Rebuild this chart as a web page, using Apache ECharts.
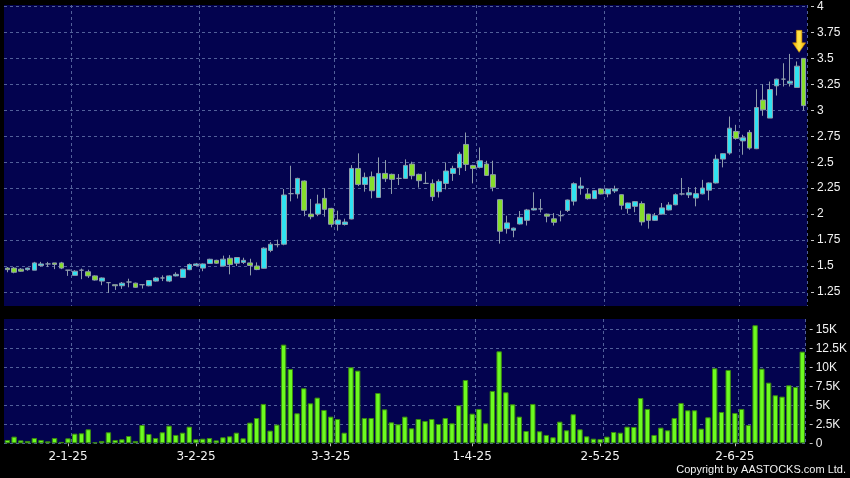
<!DOCTYPE html>
<html>
<head>
<meta charset="utf-8">
<script src="https://cdn.jsdelivr.net/npm/echarts@6/dist/echarts.min.js"></script>
<style>
html,body{margin:0;padding:0;background:#000;}
#chart{width:850px;height:478px;}
</style>
</head>
<body>
<div id="chart"></div>
<script>
const dates = [
'17-12-24','18-12-24','19-12-24','20-12-24','23-12-24','24-12-24','27-12-24','30-12-24','31-12-24',
'2-1-25','3-1-25','6-1-25','7-1-25','8-1-25','9-1-25','10-1-25','13-1-25','14-1-25','15-1-25','16-1-25','17-1-25','20-1-25','21-1-25','22-1-25','23-1-25','24-1-25','27-1-25','28-1-25',
'3-2-25','4-2-25','5-2-25','6-2-25','7-2-25','10-2-25','11-2-25','12-2-25','13-2-25','14-2-25','17-2-25','18-2-25','19-2-25','20-2-25','21-2-25','24-2-25','25-2-25','26-2-25','27-2-25','28-2-25',
'3-3-25','4-3-25','5-3-25','6-3-25','7-3-25','10-3-25','11-3-25','12-3-25','13-3-25','14-3-25','17-3-25','18-3-25','19-3-25','20-3-25','21-3-25','24-3-25','25-3-25','26-3-25','27-3-25','28-3-25','31-3-25',
'1-4-25','2-4-25','3-4-25','7-4-25','8-4-25','9-4-25','10-4-25','11-4-25','14-4-25','15-4-25','16-4-25','17-4-25','22-4-25','23-4-25','24-4-25','25-4-25','28-4-25','29-4-25','30-4-25',
'2-5-25','6-5-25','7-5-25','8-5-25','9-5-25','12-5-25','13-5-25','14-5-25','15-5-25','16-5-25','19-5-25','20-5-25','21-5-25','22-5-25','23-5-25','26-5-25','27-5-25','28-5-25','29-5-25','30-5-25',
'2-6-25','3-6-25','4-6-25','5-6-25','6-6-25','9-6-25','10-6-25','11-6-25','12-6-25','13-6-25','16-6-25'
];
const openP = [
1.48,1.48,1.47,1.465,1.46,1.505,1.52,1.53,1.53,1.46,
1.41,1.46,1.445,1.405,1.355,1.34,1.32,1.31,1.346,1.335,
1.32,1.31,1.355,1.385,1.355,1.405,1.39,1.465,1.505,1.48,
1.525,1.555,1.50,1.575,1.527,1.535,1.53,1.50,1.478,1.65,
1.706,1.71,2.197,2.194,2.319,2.0,2.0,2.152,2.055,1.902,
1.90,1.953,2.44,2.286,2.36,2.161,2.392,2.383,2.344,2.344,
2.482,2.383,2.296,2.296,2.216,2.296,2.392,2.447,2.671,2.469,
2.45,2.482,2.38,2.139,1.86,1.845,1.905,1.94,2.04,2.05,
2.0,1.955,1.985,2.035,2.125,2.25,2.194,2.149,2.242,2.194,
2.223,2.187,2.053,2.075,2.101,2.0,1.94,2.0,2.04,2.09,
2.194,2.185,2.155,2.195,2.23,2.30,2.53,2.588,2.796,2.705,
2.787,2.63,3.098,2.925,3.235,3.30,3.26,3.22,3.50
];
const closeP = [
1.465,1.44,1.45,1.48,1.53,1.52,1.52,1.515,1.48,1.46,
1.45,1.46,1.405,1.365,1.385,1.34,1.31,1.335,1.346,1.295,
1.32,1.36,1.385,1.385,1.405,1.42,1.47,1.515,1.52,1.52,
1.565,1.527,1.566,1.514,1.582,1.555,1.505,1.466,1.672,1.71,
1.706,2.184,2.197,2.344,2.037,1.975,2.098,2.046,1.902,1.943,
1.924,2.44,2.286,2.354,2.225,2.392,2.341,2.335,2.344,2.469,
2.37,2.322,2.296,2.168,2.315,2.415,2.44,2.578,2.479,2.44,
2.514,2.373,2.258,1.835,1.915,1.865,1.969,2.04,2.055,2.05,
1.98,1.921,1.985,2.136,2.293,2.27,2.149,2.226,2.194,2.242,
2.242,2.085,2.107,2.12,1.925,1.94,1.985,2.06,2.088,2.187,
2.194,2.205,2.197,2.251,2.30,2.53,2.582,2.828,2.729,2.735,
2.636,3.027,3.005,3.20,3.30,3.30,3.28,3.425,3.045
];
const lowP = [
1.44,1.43,1.445,1.455,1.46,1.495,1.49,1.47,1.47,1.405,
1.41,1.373,1.385,1.36,1.315,1.24,1.27,1.28,1.295,1.29,
1.283,1.305,1.35,1.355,1.345,1.40,1.385,1.46,1.50,1.45,
1.52,1.52,1.495,1.42,1.50,1.52,1.41,1.46,1.475,1.633,
1.68,1.70,2.123,2.15,1.98,1.95,1.98,1.975,1.873,1.841,
1.89,1.95,2.27,2.216,2.152,2.16,2.31,2.194,2.28,2.34,
2.335,2.255,2.29,2.126,2.16,2.238,2.32,2.376,2.415,2.296,
2.44,2.367,2.22,1.716,1.812,1.777,1.90,1.89,2.035,2.017,
1.921,1.89,1.93,2.02,2.083,2.187,2.14,2.145,2.19,2.162,
2.203,2.043,2.005,2.018,1.89,1.86,1.935,1.995,2.035,2.085,
2.18,2.155,2.075,2.19,2.133,2.295,2.45,2.572,2.716,2.572,
2.62,2.626,2.947,2.925,3.142,3.229,3.229,3.219,2.998
];
const highP = [
1.49,1.49,1.48,1.485,1.54,1.54,1.54,1.53,1.54,1.46,
1.46,1.476,1.465,1.41,1.39,1.34,1.32,1.346,1.378,1.34,
1.32,1.365,1.395,1.41,1.41,1.44,1.475,1.525,1.53,1.525,
1.57,1.56,1.60,1.605,1.585,1.58,1.57,1.535,1.68,1.73,
1.754,2.242,2.466,2.35,2.325,2.146,2.187,2.248,2.06,2.033,
1.956,2.472,2.585,2.40,2.41,2.546,2.52,2.39,2.386,2.527,
2.505,2.39,2.408,2.335,2.335,2.498,2.466,2.60,2.786,2.475,
2.642,2.514,2.514,2.145,1.985,1.87,2.03,2.05,2.21,2.146,
2.005,2.01,2.033,2.14,2.306,2.354,2.245,2.23,2.245,2.245,
2.274,2.19,2.11,2.125,2.123,2.003,2.011,2.107,2.115,2.2,
2.348,2.26,2.26,2.33,2.305,2.572,2.585,2.94,2.86,2.764,
2.81,3.203,3.25,3.277,3.305,3.453,3.543,3.47,3.50
];
const volume = [
440,880,390,310,700,440,260,700,180,660,
1270,1320,1840,130,310,1450,440,530,960,310,
2410,1230,700,1450,2320,1100,1400,2190,530,610,
700,390,790,920,1400,660,2720,3330,5180,1670,
2460,12980,9780,3950,7240,5260,6010,4390,3510,3200,
1400,10000,9560,3330,3330,6620,4470,2760,2500,3510,
1970,3200,2940,3200,2540,3330,2630,5000,8330,3900,
4520,2630,6890,12100,6710,5130,3510,1620,5180,1580,
1100,790,2850,1710,3820,1840,920,610,570,880,
1490,1400,2190,2150,5960,4520,1100,2060,1710,3330,
5310,4340,4340,1930,3420,9870,4120,9650,3990,4520,
2410,15530,9820,7980,6320,6140,7630,7410,12060
];
const priceTicks = [1.25,1.5,1.75,2,2.25,2.5,2.75,3,3.25,3.5,3.75,4];
const volumeTicks = [0,2500,5000,7500,10000,12500,15000];

// month-start indexes (first trading day of each month)
const monthStarts = [];
dates.forEach((d, i) => {
  if (i === 0) return;
  const m = d.split('-')[1], pm = dates[i - 1].split('-')[1];
  if (m !== pm) monthStarts.push(i);
});
const isMonthStart = (i) => monthStarts.indexOf(i) >= 0;
const isGridLine = (i) => monthStarts.indexOf(i - 1) >= 0;

const candleData = dates.map((d, i) => [openP[i], closeP[i], lowP[i], highP[i]]);
const last = dates.length - 1;

const gridLine = { show: true, lineStyle: { color: '#52609a', width: 1, type: [3, 3] } };
const labelColor = '#f2f2f2';

const chart = echarts.init(document.getElementById('chart'), null, { renderer: 'canvas' });
chart.setOption({
  animation: false,
  backgroundColor: '#000000',
  grid: [
    { left: 4, top: 5, width: 803, height: 301, show: true, backgroundColor: '#03034f', borderWidth: 0 },
    { left: 4, top: 319, width: 803, height: 124.3, show: true, backgroundColor: '#03034f', borderWidth: 0 }
  ],
  xAxis: [
    {
      type: 'category', gridIndex: 0, data: dates, boundaryGap: true,
      axisLine: { show: false }, axisTick: { show: false }, axisLabel: { show: false },
      splitLine: Object.assign({ interval: (i) => isGridLine(i) }, gridLine)
    },
    {
      type: 'category', gridIndex: 1, data: dates, boundaryGap: true, offset: 3,
      axisLine: { show: false },
      axisTick: { show: true, interval: (i) => isMonthStart(i), alignWithLabel: true, length: 3, lineStyle: { color: '#b8b8b8' } },
      axisLabel: { interval: (i) => isMonthStart(i), color: labelColor, fontFamily: 'DejaVu Sans', fontSize: 12, margin: 5 },
      splitLine: Object.assign({ interval: (i) => isGridLine(i) }, gridLine)
    }
  ],
  yAxis: [
    {
      type: 'value', gridIndex: 0, position: 'right', min: 1.115, max: 4.014, offset: 4,
      axisLine: { show: false },
      axisTick: { show: true, length: 3, customValues: priceTicks, lineStyle: { color: '#c8c8c8' } },
      axisLabel: { customValues: priceTicks, color: labelColor, fontFamily: 'Liberation Sans', fontSize: 12, margin: 6 },
      splitLine: gridLine
    },
    {
      type: 'value', gridIndex: 1, position: 'right', min: 0, max: 16350, offset: 4,
      axisLine: { show: false },
      axisTick: { show: true, length: 3, customValues: volumeTicks, lineStyle: { color: '#c8c8c8' } },
      axisLabel: {
        customValues: volumeTicks, color: labelColor, fontFamily: 'Liberation Sans', fontSize: 12, margin: 6,
        formatter: (v) => v === 0 ? '0' : (v / 1000) + 'K'
      },
      splitLine: gridLine
    }
  ],
  series: [
    {
      type: 'candlestick', xAxisIndex: 0, yAxisIndex: 0, data: candleData, barWidth: 5.2,
      itemStyle: {
        color: '#2fe2f2', color0: '#86de2c',
        borderColor: '#8e9cab', borderColor0: '#8e9cab', borderColorDoji: '#8e9cab', borderWidth: 1
      },
      markPoint: {
        silent: true, animation: false,
        label: { show: false },
        data: [{
          coord: [dates[last], highP[last]],
          symbol: 'path://M4,0 L10,0 L10,13 L14,13 L7,23 L0,13 L4,13 Z',
          symbolSize: [13, 22], symbolKeepAspect: false, symbolOffset: [-4.5, -17],
          itemStyle: {
            color: new echarts.graphic.LinearGradient(0, 0, 1, 0, [
              { offset: 0, color: '#f4a800' }, { offset: 0.5, color: '#ffe84a' }, { offset: 1, color: '#f4a800' }
            ]),
            borderColor: '#c98a00', borderWidth: 0.6
          }
        }]
      }
    },
    {
      type: 'bar', xAxisIndex: 1, yAxisIndex: 1, data: volume, barWidth: 5.4,
      itemStyle: { color: '#6cfb20', borderColor: '#3b8a10', borderWidth: 1 }
    }
  ],
  graphic: [{
    type: 'text', right: 4, top: 464, silent: true,
    style: { text: 'Copyright by AASTOCKS.com Ltd.', fill: '#f2f2f2', font: '11px "Liberation Sans"' }
  }]
});
</script>
</body>
</html>
